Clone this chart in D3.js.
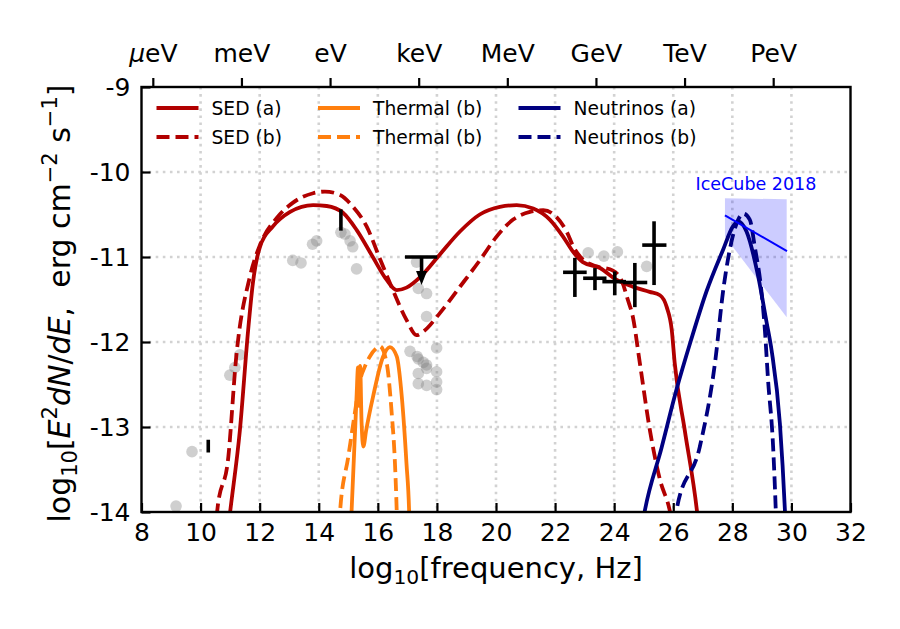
<!DOCTYPE html>
<html>
<head>
<meta charset="utf-8">
<script src="https://cdn.jsdelivr.net/npm/d3@7"></script>
<style>
  body { margin: 0; background: #fff; }
  svg { display: block; font-family: "DejaVu Sans", sans-serif; }
  text { white-space: pre; }
</style>
</head>
<body>
<div id="chart"></div>
<script>
// model curves, [log10 nu, log10 E^2 dN/dE]
const sedA = [[10.8,-14.6],[11.0,-14.0],[11.33,-13.04],[11.61,-11.86],[11.77,-11.31],[12.01,-10.88],[12.45,-10.64],
  [13.03,-10.47],[13.81,-10.39],[14.27,-10.40],[14.82,-10.48],[15.28,-10.68],[15.83,-11.0],[16.30,-11.27],
  [16.64,-11.39],[16.97,-11.36],[17.45,-11.23],[18.1,-10.97],[18.78,-10.70],[19.45,-10.50],[20.13,-10.41],
  [20.70,-10.39],[21.26,-10.43],[21.82,-10.56],[22.27,-10.76],[22.61,-10.94],[22.94,-11.06],[23.52,-11.13],
  [24.09,-11.27],[24.63,-11.35],[25.2,-11.41],[25.55,-11.45],[25.78,-11.59],[25.95,-11.86],[26.05,-12.25],
  [26.39,-13.04],[26.8,-13.98],[26.9,-14.3]];
const sedB = [[10.45,-14.5],[10.56,-14.0],[10.94,-13.35],[11.2,-12.2],[11.67,-11.23],[12.01,-10.86],[12.58,-10.54],
  [13.13,-10.36],[13.81,-10.25],[14.21,-10.23],[14.72,-10.27],[15.16,-10.41],[15.62,-10.64],[16.07,-11.02],
  [16.51,-11.39],[16.97,-11.74],[17.31,-11.92],[17.53,-11.88],[18.1,-11.66],[18.78,-11.35],[19.45,-11.04],
  [20.02,-10.76],[20.58,-10.56],[21.15,-10.47],[21.6,-10.45],[22.05,-10.53],[22.39,-10.70],[22.65,-10.90],
  [22.94,-11.03],[23.4,-11.11],[23.96,-11.16],[24.29,-11.31],[24.46,-11.5],[24.63,-11.7],[24.87,-12.25],
  [25.21,-13.04],[25.55,-13.62],[25.88,-13.98],[25.95,-14.1]];
const thermalA = [[15.05,-14.4],[15.11,-14.0],[15.28,-12.64],[15.33,-12.3],[15.36,-12.75],[15.40,-12.28],
  [15.45,-12.95],[15.51,-13.23],[15.6,-13.05],[15.84,-12.64],[16.18,-12.17],[16.41,-12.06],[16.64,-12.17],
  [16.81,-12.64],[16.97,-13.43],[17.06,-14.0],[17.09,-14.4]];
const thermalB = [[14.65,-14.4],[14.72,-14.0],[15.0,-13.35],[15.22,-12.84],[15.40,-12.45],[15.56,-12.29],
  [15.73,-12.17],[15.96,-12.07],[16.07,-12.05],[16.30,-12.25],[16.47,-12.84],[16.58,-13.43],[16.64,-14.0],[16.67,-14.4]];
const neutrinoA = [[24.95,-14.15],[25.04,-13.98],[25.6,-13.25],[26.11,-12.56],[26.6,-11.98],[27.13,-11.40],
  [27.68,-10.92],[28.02,-10.64],[28.2,-10.58],[28.48,-10.70],[28.87,-11.22],[29.15,-11.75],[29.33,-12.1],
  [29.61,-12.96],[29.78,-13.98],[29.82,-14.3]];
const neutrinoB = [[26.05,-14.15],[26.11,-13.98],[26.9,-13.23],[27.43,-12.2],[27.68,-11.42],[27.91,-10.92],
  [28.2,-10.56],[28.37,-10.49],[28.59,-10.56],[28.76,-10.88],[28.99,-11.42],[29.1,-11.85],[29.21,-12.45],
  [29.38,-13.23],[29.47,-13.98],[29.5,-14.3]];

// archival data (grey)
const archival = [[9.17,-13.93],[9.71,-13.29],[10.99,-12.39],[11.16,-12.30],[11.33,-12.15],[13.12,-11.04],
  [13.40,-11.07],[13.79,-10.85],[13.93,-10.81],[14.75,-10.71],[14.89,-10.73],[15.06,-10.81],[15.15,-10.88],
  [15.28,-11.14],[17.31,-11.06],[17.37,-11.37],[17.65,-11.43],[17.65,-11.70],[17.09,-12.11],[17.33,-12.17],
  [17.37,-12.20],[17.54,-12.24],[17.65,-12.27],[17.65,-12.31],[17.37,-12.37],[17.99,-12.07],[17.99,-12.35],
  [17.99,-12.47],[17.37,-12.49],[17.65,-12.51],[17.99,-12.56],[23.12,-10.95],[23.65,-10.99],[24.11,-10.94],
  [25.10,-11.11]];

// flare data (black): x, y, xlo, xhi, ylo, yhi
const flare = [
  [10.26, -13.22, 10.26, 10.26, -13.30, -13.15],
  [14.75, -10.56, 14.75, 14.75, -10.69, -10.44],
  [22.67, -11.18, 22.27, 23.07, -11.47, -11.01],
  [23.35, -11.25, 22.95, 23.74, -11.39, -11.13],
  [24.02, -11.29, 23.60, 24.40, -11.45, -11.17],
  [24.70, -11.30, 24.30, 25.12, -11.59, -11.07],
  [25.35, -10.86, 24.95, 25.77, -11.33, -10.58]
];
// X-ray upper limit: x, y, xlo, xhi, arrow tip
const upperLimit = [17.48, -11.0, 16.92, 18.01, -11.33];

// IceCube 2018 band and best fit
const iceX = [27.75, 29.84];
const iceHi = [-10.31, -10.32];
const iceLo = [-10.76, -11.71];
const iceFit = [[27.75, -10.51], [29.85, -10.93]];

const xTicks = [8, 10, 12, 14, 16, 18, 20, 22, 24, 26, 28, 30, 32];
const yTicks = [-14, -13, -12, -11, -10, -9];
const energyLabels = ["μeV", "meV", "eV", "keV", "MeV", "GeV", "TeV", "PeV"];
const energyPos = [8.383, 11.383, 14.383, 17.383, 20.383, 23.383, 26.383, 29.383];

const red = "#b10000", orange = "#ff7f0e", navy = "#000080";
const dashed = "13,6";
const legendItems = [
  { label: "SED (a)", color: red, dash: null, col: 0, row: 0 },
  { label: "SED (b)", color: red, dash: dashed, col: 0, row: 1 },
  { label: "Thermal (b)", color: orange, dash: null, col: 1, row: 0 },
  { label: "Thermal (b)", color: orange, dash: dashed, col: 1, row: 1 },
  { label: "Neutrinos (a)", color: navy, dash: null, col: 2, row: 0 },
  { label: "Neutrinos (b)", color: navy, dash: dashed, col: 2, row: 1 }
];

const width = 900, height = 629;
const margin = { top: 87, right: 49.5, bottom: 117, left: 141.5 };
const innerW = width - margin.left - margin.right;
const innerH = height - margin.top - margin.bottom;

const svg = d3.select("#chart").append("svg")
  .attr("width", width)
  .attr("height", height);

const x = d3.scaleLinear().domain([8, 32]).range([0, innerW]);
const y = d3.scaleLinear().domain([-14, -9]).range([innerH, 0]);

const g = svg.append("g").attr("transform", `translate(${margin.left},${margin.top})`);

g.append("clipPath").attr("id", "plot-clip")
  .append("rect").attr("width", innerW).attr("height", innerH);

// grid
const grid = g.append("g").attr("stroke", "#d2d2d2").attr("stroke-width", 2.6).attr("stroke-dasharray", "2.6,4.5");
grid.selectAll("line.vx")
  .data(xTicks.slice(1, -1))
  .enter().append("line")
  .attr("x1", d => x(d)).attr("x2", d => x(d))
  .attr("y1", 0).attr("y2", innerH);
grid.selectAll("line.hy")
  .data(yTicks.slice(1, -1))
  .enter().append("line")
  .attr("x1", 0).attr("x2", innerW)
  .attr("y1", d => y(d)).attr("y2", d => y(d));

const plot = g.append("g").attr("clip-path", "url(#plot-clip)");

// IceCube band
const band = iceX.map((v, i) => ({ x: v, hi: iceHi[i], lo: iceLo[i] }));
plot.append("path")
  .datum(band)
  .attr("d", d3.area().x(d => x(d.x)).y0(d => y(d.lo)).y1(d => y(d.hi)))
  .attr("fill", "blue")
  .attr("fill-opacity", 0.2);

// archival points
plot.selectAll("circle.arch")
  .data(archival)
  .enter().append("circle")
  .attr("cx", d => x(d[0]))
  .attr("cy", d => y(d[1]))
  .attr("r", 5.8)
  .attr("fill", "#808080")
  .attr("fill-opacity", 0.38);

const line = d3.line()
  .x(d => x(d[0]))
  .y(d => y(d[1]))
  .curve(d3.curveMonotoneX);

const curves = [
  { data: thermalB, color: orange, dash: dashed },
  { data: thermalA, color: orange, dash: null },
  { data: sedB, color: red, dash: dashed },
  { data: sedA, color: red, dash: null },
  { data: neutrinoB, color: navy, dash: dashed },
  { data: neutrinoA, color: navy, dash: null }
];

curves.forEach(c => {
  plot.append("path")
    .attr("d", line(c.data))
    .attr("fill", "none")
    .attr("stroke", c.color)
    .attr("stroke-width", 3.8)
    .attr("stroke-dasharray", c.dash);
});

// flare error bars
const bars = g.append("g").attr("stroke", "#000").attr("stroke-width", 3.6);
flare.forEach(d => {
  if (d[3] > d[2]) {
    bars.append("line")
      .attr("x1", x(d[2])).attr("x2", x(d[3]))
      .attr("y1", y(d[1])).attr("y2", y(d[1]));
  }
  bars.append("line")
    .attr("x1", x(d[0])).attr("x2", x(d[0]))
    .attr("y1", y(d[4])).attr("y2", y(d[5]));
});

// upper limit with arrow
bars.append("line")
  .attr("x1", x(upperLimit[2])).attr("x2", x(upperLimit[3]))
  .attr("y1", y(upperLimit[1])).attr("y2", y(upperLimit[1]));
bars.append("line")
  .attr("x1", x(upperLimit[0])).attr("x2", x(upperLimit[0]))
  .attr("y1", y(upperLimit[1])).attr("y2", y(upperLimit[4]) - 10);
const tipX = x(upperLimit[0]), tipY = y(upperLimit[4]);
g.append("path")
  .attr("d", `M${tipX - 5.5},${tipY - 14}L${tipX + 5.5},${tipY - 14}L${tipX},${tipY}Z`)
  .attr("fill", "#000");

// IceCube best fit line + label
plot.append("line")
  .attr("x1", x(iceFit[0][0])).attr("y1", y(iceFit[0][1]))
  .attr("x2", x(iceFit[1][0])).attr("y2", y(iceFit[1][1]))
  .attr("stroke", "blue")
  .attr("stroke-width", 2);

g.append("text")
  .attr("x", x(28.8))
  .attr("y", y(-10.21))
  .attr("text-anchor", "middle")
  .attr("font-size", 17.5)
  .attr("fill", "blue")
  .text("IceCube 2018");

// legend
const legend = g.append("g").attr("font-size", 18.7);
const colX = [15, 176.5, 377];
const rowY = [21, 50];
legendItems.forEach(d => {
  const lx = colX[d.col], ly = rowY[d.row];
  legend.append("line")
    .attr("x1", lx).attr("x2", lx + 42)
    .attr("y1", ly).attr("y2", ly)
    .attr("stroke", d.color)
    .attr("stroke-width", 3.8)
    .attr("stroke-dasharray", d.dash);
  legend.append("text")
    .attr("x", lx + 55)
    .attr("y", ly)
    .attr("dy", "0.35em")
    .text(d.label);
});

// axes
const bottomAxis = g.append("g")
  .attr("transform", `translate(0,${innerH})`)
  .call(d3.axisBottom(x).tickValues(xTicks).tickFormat(d3.format("d"))
    .tickSizeInner(-9).tickSizeOuter(0).tickPadding(11));

const leftAxis = g.append("g")
  .call(d3.axisLeft(y).tickValues(yTicks).tickFormat(d => String(d))
    .tickSizeInner(-9).tickSizeOuter(0).tickPadding(11));

const topAxis = g.append("g")
  .call(d3.axisTop(x).tickValues(energyPos).tickFormat((d, i) => energyLabels[i])
    .tickSizeInner(9).tickSizeOuter(0).tickPadding(16));

[bottomAxis, leftAxis, topAxis].forEach(a => {
  a.select(".domain").remove();
  a.selectAll("line").attr("stroke", "#000").attr("stroke-width", 2.2);
  a.selectAll("text")
    .attr("fill", "#000")
    .attr("font-size", 25)
    .attr("font-family", "DejaVu Sans, sans-serif");
});

// italic mu on the first energy label
topAxis.select(".tick text").text(null)
  .call(t => {
    t.append("tspan").attr("font-style", "italic").text("μ");
    t.append("tspan").text("eV");
  });

// frame
g.append("rect")
  .attr("width", innerW)
  .attr("height", innerH)
  .attr("fill", "none")
  .attr("stroke", "#000")
  .attr("stroke-width", 2.4);

// axis titles with sub/superscripts
function mathText(sel, parts, size) {
  let shift = 0;
  parts.forEach(p => {
    const target = p.sup ? -0.42 * size : p.sub ? 0.22 * size : 0;
    const ts = sel.append("tspan").attr("dy", target - shift).text(p.t);
    shift = target;
    if (p.sup || p.sub) ts.attr("font-size", size * 0.7);
    if (p.it) ts.attr("font-style", "italic");
  });
}

const xTitle = svg.append("text")
  .attr("x", margin.left + innerW / 2)
  .attr("y", 578)
  .attr("text-anchor", "middle")
  .attr("font-size", 29);
mathText(xTitle, [{ t: "log" }, { t: "10", sub: 1 }, { t: "[frequency, Hz]" }], 29);

const yTitle = svg.append("text")
  .attr("transform", `translate(70,${margin.top + innerH / 2 + 4}) rotate(-90)`)
  .attr("text-anchor", "middle")
  .attr("font-size", 30);
mathText(yTitle, [
  { t: "log" }, { t: "10", sub: 1 }, { t: "[" }, { t: "E", it: 1 }, { t: "2", sup: 1 },
  { t: "dN", it: 1 }, { t: "/" }, { t: "dE", it: 1 }, { t: ",  erg cm" }, { t: "−2", sup: 1 },
  { t: " s" }, { t: "−1", sup: 1 }, { t: "]" }
], 30);
</script>
</body>
</html>
